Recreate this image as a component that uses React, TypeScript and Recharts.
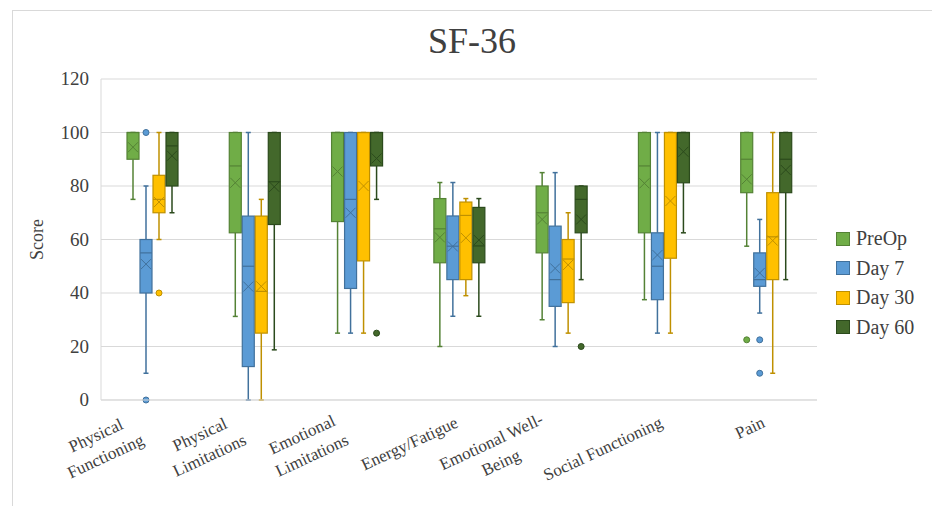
import React from 'react';
import { ComposedChart, Bar, XAxis, YAxis, CartesianGrid, Legend } from 'recharts';

const categories = [
  'Physical Functioning',
  'Physical Limitations',
  'Emotional Limitations',
  'Energy/Fatigue',
  'Emotional Well-Being',
  'Social Functioning',
  'Pain',
];
const tickLabelLines = [
  ['Physical', 'Functioning'],
  ['Physical', 'Limitations'],
  ['Emotional', 'Limitations'],
  ['Energy/Fatigue'],
  ['Emotional Well-', 'Being'],
  ['Social Functioning'],
  ['Pain'],
];
const seriesNames = ['PreOp', 'Day 7', 'Day 30', 'Day 60'];
const yTicks = [0, 20, 40, 60, 80, 100, 120];

// [whisker low, Q1, median, Q3, whisker high, mean]
const preOpStats = [
  [75, 90, 100, 100, 100, 94.5],
  [31.25, 62.5, 87.5, 100, 100, 81.2],
  [25, 66.7, 100, 100, 100, 85.4],
  [20, 51.3, 64, 75.3, 81.3, 60.8],
  [30, 55, 70, 80, 85, 67.5],
  [37.5, 62.5, 87.5, 100, 100, 81],
  [57.5, 77.5, 90, 100, 100, 82.5],
];
const day7Stats = [
  [10, 40, 55, 60, 80, 50.8],
  [0, 12.5, 50, 68.75, 100, 42.4],
  [25, 41.7, 75, 100, 100, 70],
  [31.3, 45, 57.5, 68.8, 81.3, 57.4],
  [20, 35, 45, 65, 85, 49.2],
  [25, 37.5, 50, 62.5, 100, 54.2],
  [32.5, 42.5, 45, 55, 67.5, 47.5],
];
const day30Stats = [
  [60, 70, 75, 84, 100, 74],
  [0, 25, 40.6, 68.75, 75, 42.5],
  [25, 52, 100, 100, 100, 80],
  [39, 45, 69, 74, 75.3, 60.6],
  [25, 36.4, 52.7, 60, 70, 50.5],
  [25, 53, 100, 100, 100, 74.4],
  [10, 45, 61, 77.5, 100, 59.6],
];
const day60Stats = [
  [70, 80, 95, 100, 100, 91.3],
  [18.75, 65.6, 81.6, 100, 100, 79.7],
  [75, 87.5, 100, 100, 100, 90.3],
  [31.3, 51.3, 57.6, 72, 75.3, 59.8],
  [45, 62.5, 75, 80, 80, 67.5],
  [62.5, 81.2, 100, 100, 100, 92.8],
  [45, 77.5, 90, 100, 100, 86],
];

const preOpOutliers = [[], [], [], [], [], [], [22.5]];
const day7Outliers = [[100, 0], [], [], [], [], [], [22.5, 10]];
const day30Outliers = [[40], [], [], [], [], [], []];
const day60Outliers = [[], [], [25], [], [20], [], []];

const fills = ['#70AD47', '#5B9BD5', '#FFC000', '#43682B'];
const strokes = ['#548235', '#41719C', '#BF9000', '#2B4A1C'];

const allStats = [preOpStats, day7Stats, day30Stats, day60Stats];
const allOutliers = [preOpOutliers, day7Outliers, day30Outliers, day60Outliers];

const chartData = categories.map((name, i) => {
  const stats = allStats.map((s) => s[i]);
  const outliers = allOutliers.map((o) => o[i]);
  const ranges = stats.map((s, si) => [
    Math.min(s[0], ...outliers[si]),
    Math.max(s[4], ...outliers[si]),
  ]);
  return { name, stats, outliers, ranges };
});

const FONT = 'Liberation Serif, Times New Roman, serif';
const TEXT_COLOR = '#404040';
const TICK_FS = 17;
const ANGLE = -25;

let measureCtx: CanvasRenderingContext2D | null = null;
function measure(text: string, font: string): number {
  if (!measureCtx) {
    const c = document.createElement('canvas');
    measureCtx = c.getContext('2d');
  }
  if (!measureCtx) return text.length * 8;
  measureCtx.font = font;
  return measureCtx.measureText(text).width;
}

const XTick = (props: any) => {
  const { x, y, payload } = props;
  const idx = categories.indexOf(payload.value);
  const lines = idx >= 0 ? tickLabelLines[idx] : [String(payload.value)];
  const W = Math.max(...lines.map((l) => measure(l, `${TICK_FS}px Liberation Serif`)));
  const n = lines.length;
  const lh = 23;
  const dx = n > 1 ? -14 : -2;
  const dy = n > 1 ? 29 : 22;
  return (
    <g transform={`translate(${x + dx},${y + dy}) rotate(${ANGLE})`}>
      {lines.map((l, i) => (
        <text
          key={i}
          x={-W / 2}
          y={5 + (i - (n - 1) / 2) * lh}
          textAnchor="middle"
          fill={TEXT_COLOR}
          style={{ fontFamily: FONT, fontSize: TICK_FS }}
        >
          {l}
        </text>
      ))}
    </g>
  );
};

const YTick = (props: any) => {
  const { x, y, payload } = props;
  return (
    <text
      x={x}
      y={y}
      dy={6}
      textAnchor="end"
      fill={TEXT_COLOR}
      style={{ fontFamily: FONT, fontSize: 19 }}
    >
      {payload.value}
    </text>
  );
};

function makeBoxShape(si: number) {
  return (props: any) => {
    const { x, y, width, height, payload } = props;
    if (!payload || !payload.stats) return <g />;
    const st = payload.stats[si];
    const outs: number[] = payload.outliers[si];
    const [lo, hi] = payload.ranges[si];
    const top = Math.min(y, y + height);
    const h = Math.abs(height);
    const py = (v: number) => top + ((hi - v) / (hi - lo)) * h;
    const [wl, q1, med, q3, wh, mean] = st;
    const cx = x + width / 2;
    const stroke = strokes[si];
    const fill = fills[si];
    const capW = 2.5;
    const yq1 = py(q1);
    const yq3 = py(q3);
    const ym = py(mean);
    const s = width / 2 - 1;
    return (
      <g>
        <line x1={cx} x2={cx} y1={py(wh)} y2={yq3} stroke={stroke} strokeWidth={1.5} />
        <line x1={cx} x2={cx} y1={yq1} y2={py(wl)} stroke={stroke} strokeWidth={1.5} />
        <line x1={cx - capW} x2={cx + capW} y1={py(wh)} y2={py(wh)} stroke={stroke} strokeWidth={1.5} />
        <line x1={cx - capW} x2={cx + capW} y1={py(wl)} y2={py(wl)} stroke={stroke} strokeWidth={1.5} />
        <rect x={x} y={yq3} width={width} height={Math.max(yq1 - yq3, 0.5)} fill={fill} stroke={stroke} strokeWidth={1.2} />
        <line x1={x} x2={x + width} y1={py(med)} y2={py(med)} stroke={stroke} strokeWidth={1.2} />
        <line x1={cx - s} x2={cx + s} y1={ym - s} y2={ym + s} stroke={stroke} strokeWidth={1} />
        <line x1={cx - s} x2={cx + s} y1={ym + s} y2={ym - s} stroke={stroke} strokeWidth={1} />
        {outs.map((o, k) => (
          <circle key={k} cx={cx} cy={py(o)} r={3} fill={fill} stroke={stroke} strokeWidth={1} />
        ))}
      </g>
    );
  };
}

const LegendContent = () => (
  <div style={{ fontFamily: FONT, fontSize: 20, color: TEXT_COLOR }}>
    {seriesNames.map((n, i) => (
      <div key={n} style={{ height: 29.5, display: 'flex', alignItems: 'center' }}>
        <span
          style={{
            display: 'inline-block',
            width: 12,
            height: 12,
            background: fills[i],
            border: `1px solid ${strokes[i]}`,
            marginRight: 6,
          }}
        />
        <span>{n}</span>
      </div>
    ))}
  </div>
);

export default function App() {
  return (
    <div
      style={{
        position: 'absolute',
        left: 0,
        top: 0,
        width: 932,
        height: 506,
        overflow: 'hidden',
        background: '#ffffff',
      }}
    >
      <div
        style={{
          position: 'absolute',
          left: 12,
          top: 10,
          width: 940,
          height: 520,
          borderTop: '1px solid #d9d9d9',
          borderLeft: '1px solid #d9d9d9',
        }}
      />
      <svg width={932} height={70} style={{ position: 'absolute', left: 0, top: 0 }}>
        <text x={472} y={53} textAnchor="middle" fill={TEXT_COLOR} style={{ fontFamily: FONT, fontSize: 36 }}>
          SF-36
        </text>
      </svg>
      <div style={{ position: 'absolute', left: 0, top: 0 }}>
        <ComposedChart
          width={932}
          height={506}
          data={chartData}
          margin={{ top: 79, right: 115, bottom: 26, left: 0 }}
          barGap={1}
          barSize={12}
        >
          <CartesianGrid vertical={false} stroke="#d9d9d9" />
          <XAxis
            dataKey="name"
            type="category"
            interval={0}
            height={80}
            tickSize={0}
            tickMargin={0}
            axisLine={{ stroke: '#d9d9d9' }}
            tick={<XTick />}
          />
          <YAxis
            type="number"
            domain={[0, 120]}
            ticks={yTicks}
            width={101}
            tickSize={0}
            tickMargin={12}
            axisLine={{ stroke: '#d9d9d9' }}
            tick={<YTick />}
            label={{
              content: (p: any) => {
                const vb = p.viewBox || { x: 0, y: 79, height: 321 };
                return (
                  <text
                    transform={`translate(${vb.x + 43},${vb.y + vb.height / 2}) rotate(-90)`}
                    textAnchor="middle"
                    fill={TEXT_COLOR}
                    style={{ fontFamily: FONT, fontSize: 18 }}
                  >
                    Score
                  </text>
                );
              },
            }}
          />
          <Legend
            layout="vertical"
            align="center"
            verticalAlign="middle"
            wrapperStyle={{ left: 836, top: 224, width: 96, height: 120 }}
            content={<LegendContent />}
          />
          {seriesNames.map((n, si) => (
            <Bar
              key={n}
              name={n}
              dataKey={(d: any) => d.ranges[si]}
              fill={fills[si]}
              isAnimationActive={false}
              shape={makeBoxShape(si)}
            />
          ))}
        </ComposedChart>
      </div>
    </div>
  );
}
